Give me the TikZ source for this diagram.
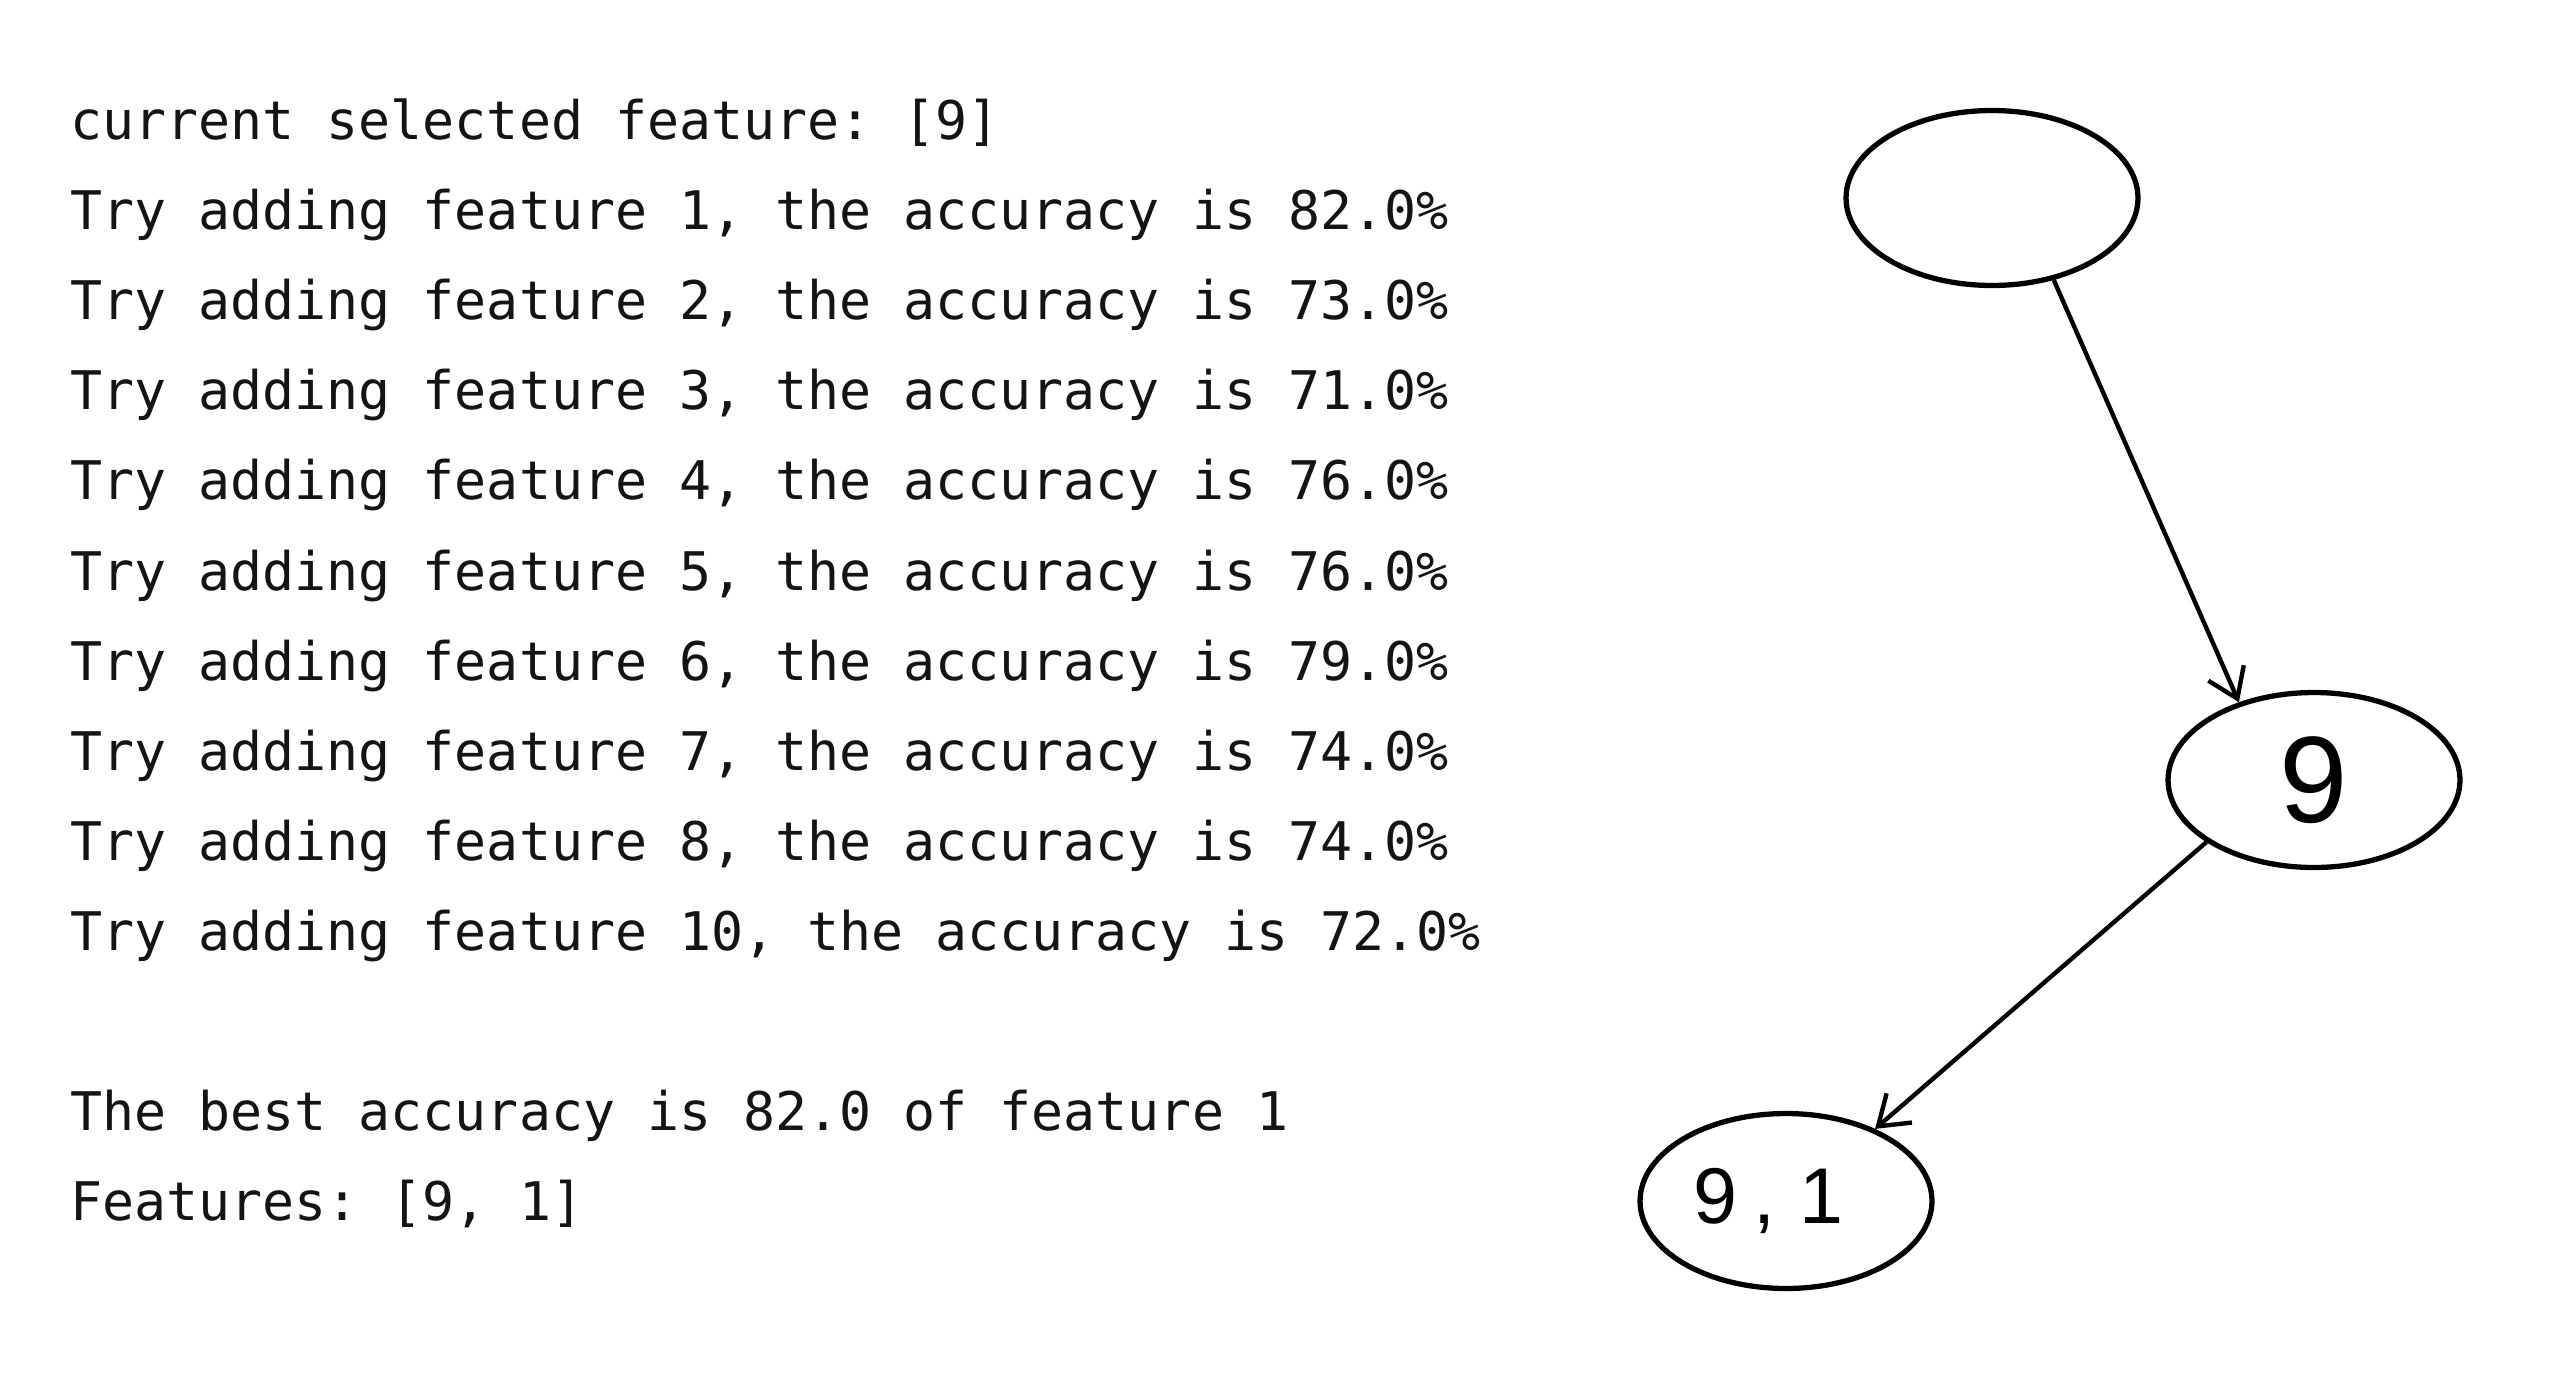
\documentclass[tikz,border=0pt]{standalone}
\usepackage{fontspec}
\setmonofont{DejaVu Sans Mono}
\newfontfamily\handfont{Liberation Sans}
\usetikzlibrary{arrows.meta,shapes.geometric}
\begin{document}
\begin{tikzpicture}[x=0.02cm,y=-0.02cm,
  term/.style={anchor=base west, inner sep=0pt, text=black!92,
    font=\ttfamily\fontsize{30.3pt}{36pt}\selectfont},
  state/.style={draw, ellipse, line width=3pt, inner sep=0pt,
    minimum width=5.84cm, minimum height=3.5cm,
    font=\handfont\fontsize{70pt}{80pt}\selectfont},
  arr/.style={line width=2.5pt, -{Straight Barb[length=16pt,width=22pt,line width=2.5pt]}}]
\fill[white] (0,0) rectangle (2569,1383);
\useasboundingbox (0,0) rectangle (2569,1383);
% terminal output
\node[term] (l0) at (70,139) {current selected feature: [9]};
\node[term] (l1) at (70,229) {Try adding feature 1, the accuracy is 82.0\%};
\node[term] (l2) at (70,319) {Try adding feature 2, the accuracy is 73.0\%};
\node[term] (l3) at (70,409) {Try adding feature 3, the accuracy is 71.0\%};
\node[term] (l4) at (70,499) {Try adding feature 4, the accuracy is 76.0\%};
\node[term] (l5) at (70,590) {Try adding feature 5, the accuracy is 76.0\%};
\node[term] (l6) at (70,680) {Try adding feature 6, the accuracy is 79.0\%};
\node[term] (l7) at (70,770) {Try adding feature 7, the accuracy is 74.0\%};
\node[term] (l8) at (70,860) {Try adding feature 8, the accuracy is 74.0\%};
\node[term] (l9) at (70,950) {Try adding feature 10, the accuracy is 72.0\%};
\node[term] (l10) at (70,1130) {The best accuracy is 82.0 of feature 1};
\node[term] (l11) at (70,1220) {Features: [9, 1]};
% tree
\node[state] (root) at (1992,198) {};
\node[state] (n9) at (2314,780) {9};
\node[state] (n91) at (1786,1201) {\fontsize{45pt}{56pt}\selectfont 9\kern0.2em,\kern0.3em1\kern0.7cm};
\draw[arr] (root.-53) -- (n9.134);
\draw[arr] (n9.210) -- (n91.39);
\end{tikzpicture}
\end{document}
